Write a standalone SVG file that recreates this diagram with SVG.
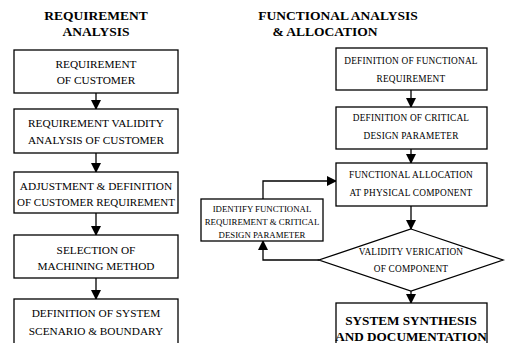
<svg xmlns="http://www.w3.org/2000/svg" width="521" height="343" viewBox="0 0 521 343">
<defs>
<marker id="ah" markerWidth="10" markerHeight="10" refX="9" refY="5" orient="auto" markerUnits="userSpaceOnUse">
<path d="M0,0 L10,5 L0,10 Z" fill="#000"/>
</marker>
<style>
.box{fill:#fff;stroke:#000;stroke-width:1.3}
text{font-family:'Liberation Serif','Times New Roman','DejaVu Serif',serif;text-anchor:middle;fill:#000}
.t{font-size:11.3px}
.s{font-size:9.3px;letter-spacing:0.2px}
.i{font-size:8.8px}
.h{font-size:13.5px;font-weight:bold}
.b{font-size:13.2px;font-weight:bold}
.c{fill:none;stroke:#000;stroke-width:1.3;marker-end:url(#ah)}
</style>
</defs>
<rect width="521" height="343" fill="#fff"/>
<g id="titles">
<text class="h" x="96" y="20">REQUIREMENT</text>
<text class="h" x="96" y="36">ANALYSIS</text>
<text class="h" x="338" y="20">FUNCTIONAL ANALYSIS</text>
<text class="h" x="325" y="36">&amp; ALLOCATION</text>
</g>
<g id="connectors">
<path class="c" d="M96,93 V109"/>
<path class="c" d="M96,153 V172"/>
<path class="c" d="M96,213 V235"/>
<path class="c" d="M96,278 V299"/>
<path class="c" d="M411,90 V107"/>
<path class="c" d="M411,149 V163"/>
<path class="c" d="M411,206 V229"/>
<path class="c" d="M411,291 V303"/>
<path class="c" d="M319,260 H263 V241"/>
<path class="c" d="M263,199 V181 H336"/>
</g>
<g id="n1"><rect class="box" x="14" y="50" width="164" height="43"/>
<text class="t" x="96" y="68">REQUIREMENT</text><text class="t" x="96" y="84">OF CUSTOMER</text></g>
<g id="n2"><rect class="box" x="14" y="109" width="164" height="44"/>
<text class="t" x="96" y="127">REQUIREMENT VALIDITY</text><text class="t" x="96" y="144">ANALYSIS OF CUSTOMER</text></g>
<g id="n3"><rect class="box" x="14" y="172" width="164" height="41"/>
<text class="t" x="96" y="190">ADJUSTMENT &amp; DEFINITION</text><text class="t" x="96" y="206" textLength="158" lengthAdjust="spacingAndGlyphs">OF CUSTOMER REQUIREMENT</text></g>
<g id="n4"><rect class="box" x="14" y="235" width="164" height="43"/>
<text class="t" x="96" y="254">SELECTION OF</text><text class="t" x="96" y="270">MACHINING METHOD</text></g>
<g id="n5"><rect class="box" x="14" y="299" width="164" height="50"/>
<text class="t" x="96" y="317">DEFINITION OF SYSTEM</text><text class="t" x="96" y="335">SCENARIO &amp; BOUNDARY</text></g>
<g id="r1"><rect class="box" x="336" y="48" width="151" height="42"/>
<text class="s" x="411" y="64">DEFINITION OF FUNCTIONAL</text><text class="s" x="411" y="82">REQUIREMENT</text></g>
<g id="r2"><rect class="box" x="336" y="107" width="151" height="42"/>
<text class="s" x="411" y="121">DEFINITION OF CRITICAL</text><text class="s" x="411" y="139">DESIGN PARAMETER</text></g>
<g id="r3"><rect class="box" x="336" y="163" width="151" height="43"/>
<text class="s" x="411" y="178">FUNCTIONAL ALLOCATION</text><text class="s" x="411" y="196">AT PHYSICAL COMPONENT</text></g>
<g id="r4"><polygon class="box" points="411,229 503,260 411,291 319,260"/>
<text class="s" x="411" y="255">VALIDITY VERICATION</text><text class="s" x="411" y="272">OF COMPONENT</text></g>
<g id="r5"><rect class="box" x="336" y="303" width="151" height="46"/>
<text class="b" x="411" y="325">SYSTEM SYNTHESIS</text><text class="b" x="411" y="341">AND DOCUMENTATION</text></g>
<g id="r6"><rect class="box" x="201" y="199" width="122" height="42"/>
<text class="i" x="262" y="212">IDENTIFY FUNCTIONAL</text><text class="i" x="262" y="225">REQUIREMENT &amp; CRITICAL</text><text class="i" x="262" y="238">DESIGN PARAMETER</text></g>
</svg>
